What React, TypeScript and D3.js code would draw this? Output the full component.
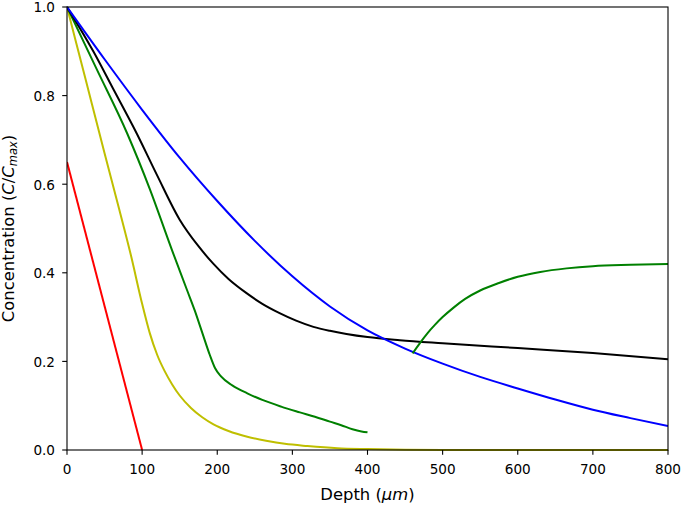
import React from "react";
import * as d3 from "d3";

const W = 685;
const H = 506;

const xTicks = [0, 100, 200, 300, 400, 500, 600, 700, 800];
const yTicks = [0, 0.2, 0.4, 0.6, 0.8, 1.0];

const redD = [0, 100];
const redC = [0.65, 0];

const yellowD = [0, 25, 50, 70, 85, 100, 110, 120, 130, 140, 150, 165, 180, 195, 215, 240, 265, 290, 320, 360, 400, 450, 500, 650, 800];
const yellowC = [1.0, 0.835, 0.67, 0.54, 0.44, 0.33, 0.265, 0.215, 0.178, 0.148, 0.123, 0.095, 0.074, 0.058, 0.043, 0.03, 0.021, 0.014, 0.009, 0.004, 0.002, 0.0005, 0.0, 0.0, 0.0];

const green1D = [0, 40, 80, 110, 140, 150, 160, 170, 180, 190, 197, 205, 220, 240, 260, 285, 310, 330, 350, 365, 380, 392, 400];
const green1C = [1.0, 0.858, 0.715, 0.59, 0.45, 0.405, 0.36, 0.315, 0.265, 0.215, 0.185, 0.166, 0.146, 0.128, 0.113, 0.098, 0.085, 0.075, 0.064, 0.056, 0.047, 0.042, 0.04];

const green2D = [460, 470, 480, 490, 500, 515, 530, 550, 575, 600, 630, 665, 700, 750, 800];
const green2C = [0.218, 0.242, 0.264, 0.283, 0.3, 0.322, 0.341, 0.36, 0.377, 0.391, 0.402, 0.41, 0.415, 0.418, 0.42];

const blackD = [0, 35, 60, 93, 120, 150, 175, 195, 215, 239, 260, 283, 305, 328, 350, 372, 400, 443, 500, 600, 700, 800];
const blackC = [1.0, 0.9, 0.82, 0.714, 0.62, 0.52, 0.46, 0.42, 0.386, 0.354, 0.33, 0.309, 0.292, 0.278, 0.269, 0.262, 0.255, 0.248, 0.241, 0.23, 0.219, 0.205];

const blueD = [0, 50, 100, 150, 200, 250, 300, 350, 400, 450, 500, 550, 600, 650, 700, 750, 800];
const blueC = [1.0, 0.882, 0.768, 0.66, 0.562, 0.472, 0.392, 0.324, 0.27, 0.229, 0.195, 0.165, 0.139, 0.114, 0.091, 0.072, 0.054];

const series = [
  { d: redD, c: redC, color: "#ff0000" },
  { d: yellowD, c: yellowC, color: "#bfbf00" },
  { d: green1D, c: green1C, color: "#008000" },
  { d: blackD, c: blackC, color: "#000000" },
  { d: blueD, c: blueC, color: "#0000ff" },
  { d: green2D, c: green2C, color: "#008000" },
];

export default function App() {
  const left = 67, right = 668, top = 7, bottom = 450;
  const x = d3.scaleLinear().domain([0, 800]).range([left, right]);
  const y = d3.scaleLinear().domain([0, 1]).range([bottom, top]);
  const line = d3
    .line<[number, number]>()
    .x((p) => x(p[0]))
    .y((p) => y(p[1]))
    .curve(d3.curveMonotoneX);
  const font = "'DejaVu Sans', sans-serif";
  const fs = 13.6;
  const lfs = 16.4;
  const tick = 4.8;
  return (
    <svg
      width={W}
      height={H}
      style={{ position: "absolute", left: 0, top: 0, background: "#fff" }}
      fontFamily={font}
    >
      <rect x={0} y={0} width={W} height={H} fill="#fff" />
      <defs>
        <clipPath id="plotclip">
          <rect x={left} y={top - 2} width={right - left} height={bottom - top + 4} />
        </clipPath>
      </defs>
      <g clipPath="url(#plotclip)">
        {series.map((s, i) => (
          <path
            key={i}
            d={line(s.d.map((v, j) => [v, s.c[j]] as [number, number])) || ""}
            fill="none"
            stroke={s.color}
            strokeWidth={2}
            strokeLinejoin="round"
            strokeLinecap="butt"
          />
        ))}
      </g>
      <rect
        x={left}
        y={top}
        width={right - left}
        height={bottom - top}
        fill="none"
        stroke="#000"
        strokeWidth={1.1}
      />
      {xTicks.map((t) => (
        <g key={"x" + t}>
          <line x1={x(t)} x2={x(t)} y1={bottom} y2={bottom + tick} stroke="#000" strokeWidth={1.1} />
          <text x={x(t)} y={474} fontSize={fs} textAnchor="middle" fill="#000">
            {String(t)}
          </text>
        </g>
      ))}
      {yTicks.map((t) => (
        <g key={"y" + t}>
          <line x1={left - tick} x2={left} y1={y(t)} y2={y(t)} stroke="#000" strokeWidth={1.1} />
          <text x={55} y={y(t) + 5.3} fontSize={fs} textAnchor="end" fill="#000">
            {t.toFixed(1)}
          </text>
        </g>
      ))}
      <text x={(left + right) / 2} y={499.5} fontSize={lfs} textAnchor="middle" fill="#000">
        Depth (<tspan fontStyle="italic">μm</tspan>)
      </text>
      <text
        transform={`translate(13.5, ${(top + bottom) / 2}) rotate(-90)`}
        fontSize={lfs}
        textAnchor="middle"
        fill="#000"
      >
        Concentration (<tspan fontStyle="italic">C</tspan>/<tspan fontStyle="italic">C</tspan>
        <tspan fontStyle="italic" fontSize={lfs * 0.7} dy={3.5}>max</tspan>
        <tspan dy={-3.5}>)</tspan>
      </text>
    </svg>
  );
}
